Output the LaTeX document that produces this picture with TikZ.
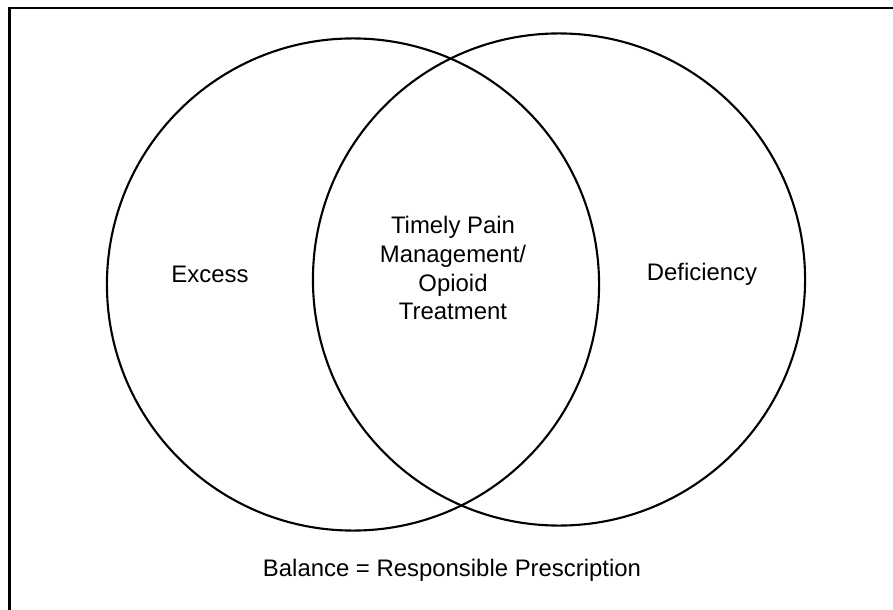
\documentclass[tikz,border=0pt]{standalone}
\usepackage{fontspec}
\setmainfont{Liberation Sans}
\usepackage{tikz}

\begin{document}
\begin{tikzpicture}[x=0.025cm,y=-0.025cm,
  set/.style={circle,draw=black,line width=1.5pt,minimum size=12.3cm,inner sep=0pt},
  label/.style={font=\fontsize{17}{20.6}\selectfont,align=center}]
\useasboundingbox (0,0) rectangle (893,610);
\clip (0,0) rectangle (893,610);
\draw[line width=2pt] (9.5,8) rectangle (910,630);
\node[set] (excess) at (353,284.5) {};
\node[set] (deficiency) at (559,279.5) {};
\node[label] (a) at (210,274) {Excess};
\node[label] (b) at (702,274) {Deficiency};
\node[label] (c) at (453,268) {Timely Pain\\Management/\\Opioid\\Treatment};
\node[label] (d) at (452,570) {Balance = Responsible Prescription};
\end{tikzpicture}
\end{document}
